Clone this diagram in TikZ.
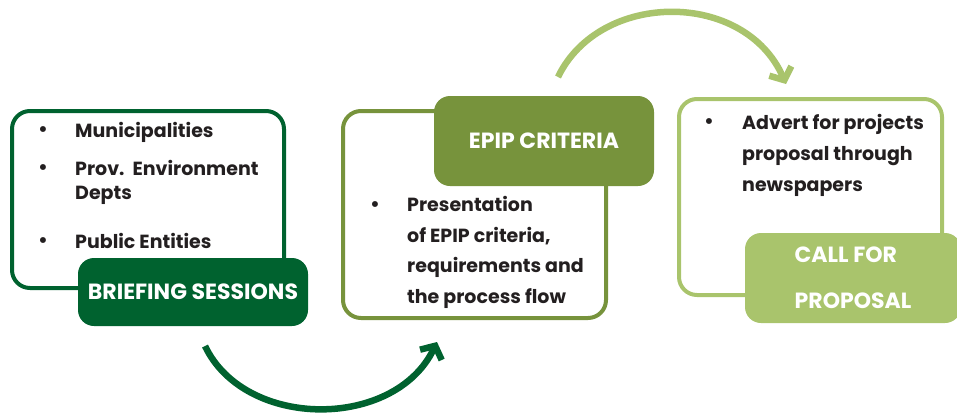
\documentclass[tikz,border=0pt]{standalone}
\usepackage{fontspec}
\setmainfont{Poppins}
\usetikzlibrary{arrows.meta}

\definecolor{darkgreen}{RGB}{0,98,47}
\definecolor{olivegreen}{RGB}{119,147,60}
\definecolor{lightgreen}{RGB}{169,196,108}
\definecolor{inkgray}{RGB}{35,31,32}

\begin{document}
\begin{tikzpicture}[x = 1pt, y = -1pt, > = {Straight Barb[length = 10pt, width = 24pt]},
	boxframe/.style = {draw, line width = 4pt, rounded corners = 18pt, inner sep = 0pt},
	boxtag/.style = {fill, rounded corners = 16pt, inner sep = 0pt, text = white, font = \bfseries\fontsize{22}{46}\selectfont, align = left},
	bullettext/.style = {anchor = base west, inner sep = 0pt, text = inkgray, font = \bfseries\fontsize{19}{24}\selectfont, align = left},
	bulletdot/.style = {anchor = base, inner sep = 0pt, text = inkgray, font = \fontsize{24}{24}\selectfont},
	flowarrow/.style = {->, line width = 6.5pt}]

	\useasboundingbox (0, 0) rectangle (957, 413);

	% Frames

	\node [boxframe, darkgreen, minimum width = 272pt, minimum height = 177pt] (briefbox) at (148, 199.5) {};
	\node [boxframe, olivegreen, minimum width = 263pt, minimum height = 207pt] (epipbox) at (474.5, 214.5) {};
	\node [boxframe, lightgreen, minimum width = 263pt, minimum height = 196pt] (callbox) at (810.5, 197) {};

	% Tags

	\node [boxtag, fill = darkgreen, minimum width = 230pt, minimum height = 68pt] (brieftag) at (193, 292) {BRIEFING SESSIONS};
	\node [boxtag, fill = olivegreen, minimum width = 220pt, minimum height = 90pt] (epiptag) at (544, 141) {EPIP CRITERIA};
	\node [boxtag, fill = lightgreen, minimum width = 216pt, minimum height = 90pt] (calltag) at (853, 278) {CALL FOR\\PROPOSAL};

	% Bullet lists (base = last line)

	\node [bulletdot] (dotmuni) at (43, 137) {\textbullet};
	\node [bullettext] (muni) at (75, 137) {Municipalities};
	\node [bulletdot] (dotprov) at (43, 175) {\textbullet};
	\node [bullettext] (prov) at (75, 199) {Prov.\ \ Environment\\Depts};
	\node [bulletdot] (dotpub) at (43, 248) {\textbullet};
	\node [bullettext] (pub) at (75, 248) {Public Entities};

	\node [bulletdot] (dotpres) at (375, 212) {\textbullet};
	\node [bullettext, font = \bfseries\fontsize{19}{30.5}\selectfont] (pres) at (407, 303) {Presentation\\of EPIP criteria,\\requirements and\\the process flow};

	\node [bulletdot] (dotadv) at (709, 129) {\textbullet};
	\node [bullettext, font = \bfseries\fontsize{19}{31}\selectfont] (adv) at (742, 191) {Advert for projects\\proposal through\\newspapers};

	% Flow arrows

	\coordinate (flowastart) at (205, 346);
	\coordinate (flowaend) at (437, 342);
	\coordinate (flowbstart) at (558, 77);
	\coordinate (flowbend) at (786, 84);

	\draw [flowarrow, darkgreen] (flowastart) .. controls (245, 430) and (395, 430) .. (flowaend);
	\draw [flowarrow, lightgreen] (flowbstart) .. controls (600, -10) and (745, -10) .. (flowbend);

\end{tikzpicture}
\end{document}
